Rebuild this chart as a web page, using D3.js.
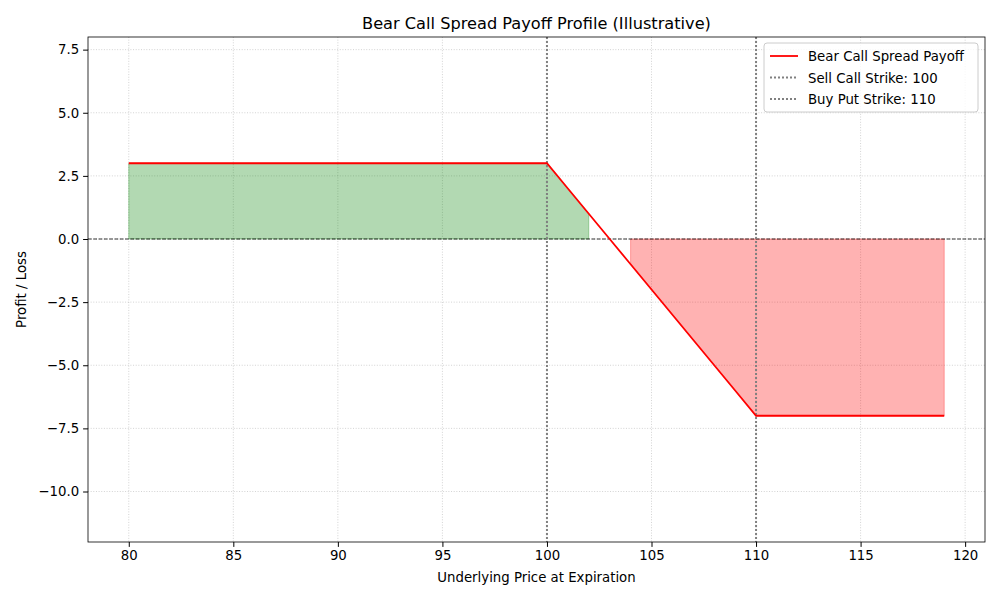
<!DOCTYPE html>
<html><head><meta charset="utf-8">
<script src="https://cdn.jsdelivr.net/npm/d3@7"></script>
<style>body{margin:0;background:#fff}text{font-family:"DejaVu Sans",sans-serif}</style>
</head><body><svg id="c" width="1000" height="600"></svg>
<script>
const prices = d3.range(80, 120);
const payoff = [3,3,3,3,3,3,3,3,3,3,3,3,3,3,3,3,3,3,3,3,3,2,1,0,-1,-2,-3,-4,-5,-6,-7,-7,-7,-7,-7,-7,-7,-7,-7,-7];
const xTicks = [80,85,90,95,100,105,110,115,120];
const yTicks = [7.5,5,2.5,0,-2.5,-5,-7.5,-10];
const strikes = [{v:100,label:"Sell Call Strike: 100"},{v:110,label:"Buy Put Strike: 110"}];
const data = prices.map((p,i)=>({x:p,y:payoff[i]}));

const svg = d3.select("#c");
const L=88,R=985,T=37,B=542;
const x = d3.scaleLinear().domain([78.05,120.95]).range([L,R]);
const y = d3.scaleLinear().domain([-12,8]).range([B,T]);
const g = svg.append("g");
g.selectAll(".gx").data(xTicks).join("line").attr("x1",d=>x(d)).attr("x2",d=>x(d)).attr("y1",T).attr("y2",B)
 .attr("stroke","#b0b0b0").attr("stroke-opacity",0.7).attr("stroke-dasharray","1,1.65").attr("stroke-width",0.8);
g.selectAll(".gy").data(yTicks).join("line").attr("y1",d=>y(d)).attr("y2",d=>y(d)).attr("x1",L).attr("x2",R)
 .attr("stroke","#b0b0b0").attr("stroke-opacity",0.7).attr("stroke-dasharray","1,1.65").attr("stroke-width",0.8);
const area = d3.area().x(d=>x(d.x)).y0(y(0)).y1(d=>y(d.y));
g.append("path").datum(data.filter(d=>d.y>0)).attr("d",area).attr("fill","green").attr("fill-opacity",0.3).attr("stroke","green").attr("stroke-opacity",0.3);
g.append("path").datum(data.filter(d=>d.y<0)).attr("d",area).attr("fill","red").attr("fill-opacity",0.3).attr("stroke","red").attr("stroke-opacity",0.3);
g.append("line").attr("x1",L).attr("x2",R).attr("y1",y(0)).attr("y2",y(0)).attr("stroke","#000").attr("stroke-width",0.8).attr("stroke-dasharray","3.7,1.6");
g.selectAll(".st").data(strikes).join("line").attr("x1",d=>x(d.v)).attr("x2",d=>x(d.v)).attr("y1",T).attr("y2",B)
 .attr("stroke","gray").attr("stroke-width",2).attr("stroke-dasharray","2,2");
g.append("path").datum(data).attr("d",d3.line().x(d=>x(d.x)).y(d=>y(d.y))).attr("fill","none").attr("stroke","red").attr("stroke-width",1.8);
const xa = svg.append("g").attr("transform",`translate(0,${B})`).call(d3.axisBottom(x).tickValues(xTicks).tickSize(4.9).tickPadding(4));
const ya = svg.append("g").attr("transform",`translate(${L},0)`).call(d3.axisLeft(y).tickValues(yTicks).tickSize(4.9).tickPadding(4).tickFormat(d=>d3.format(".1f")(d).replace("-","\u2212")));
[xa,ya].forEach(a=>{a.select(".domain").remove();a.selectAll("text").attr("font-size",13.3).attr("fill","#000");a.selectAll("line").attr("stroke","#000");});
svg.append("rect").attr("x",L).attr("y",T).attr("width",R-L).attr("height",B-T).attr("fill","none").attr("stroke","#000").attr("stroke-width",0.8);
svg.append("text").attr("x",(L+R)/2).attr("y",29).attr("text-anchor","middle").attr("font-size",16.2).text("Bear Call Spread Payoff Profile (Illustrative)");
svg.append("text").attr("x",(L+R)/2).attr("y",582).attr("text-anchor","middle").attr("font-size",13.3).text("Underlying Price at Expiration");
svg.append("text").attr("transform",`translate(26,${(T+B)/2}) rotate(-90)`).attr("text-anchor","middle").attr("font-size",13.3).text("Profit / Loss");
const lg = svg.append("g").attr("transform","translate(764,43)");
lg.append("rect").attr("width",214).attr("height",69).attr("rx",3).attr("fill","#fff").attr("fill-opacity",0.8).attr("stroke","#ccc");
const items=[{label:"Bear Call Spread Payoff",c:"red",dash:null},...strikes.map(s=>({label:s.label,c:"gray",dash:"2,2"}))];
items.forEach((it,i)=>{
  const yy=13+i*21.5;
  lg.append("line").attr("x1",6).attr("x2",34).attr("y1",yy).attr("y2",yy).attr("stroke",it.c).attr("stroke-width",1.8).attr("stroke-dasharray",it.dash);
  lg.append("text").attr("x",44).attr("y",yy+5).attr("font-size",13.3).text(it.label);
});
</script></body></html>
